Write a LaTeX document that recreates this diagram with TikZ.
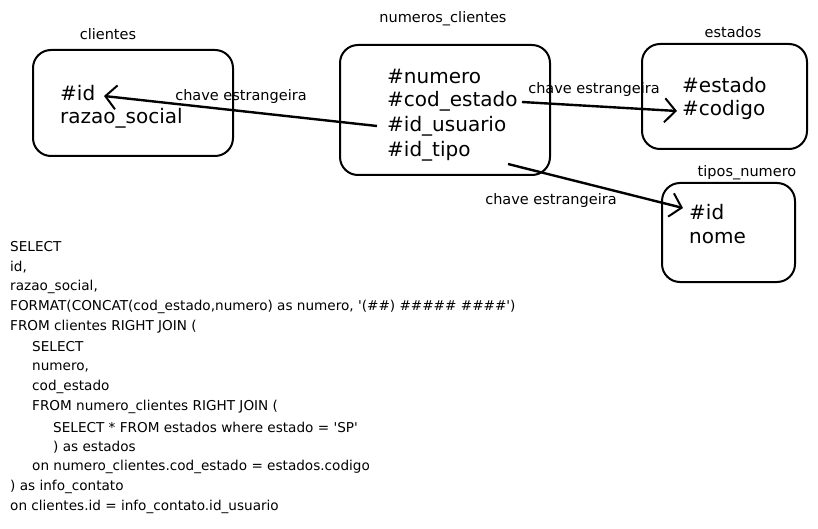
\documentclass[tikz,border=0pt]{standalone}
\usepackage{fontspec}
\setmainfont{DejaVu Sans}
\usetikzlibrary{arrows.meta}
\tikzset{
  tbl/.style={draw, line width=2pt, rounded corners=18pt},
  ttl/.style={font=\fontsize{14.5}{16}\selectfont, inner sep=0pt},
  fld/.style={font=\fontsize{20}{24}\selectfont, anchor=west, inner sep=0pt},
  lbl/.style={font=\fontsize{14.5}{16}\selectfont, inner sep=0pt},
  sql/.style={font=\fontsize{13.6}{20}\selectfont, anchor=west, inner sep=0pt},
  fk/.style={line width=2.4pt, -{Straight Barb[length=11pt,width=24pt,line width=2pt]}},
}
\newcommand{\sq}{\textquotesingle}
\begin{document}
\begin{tikzpicture}[x=1pt,y=-1pt]
\useasboundingbox (0,0) rectangle (818,529);
\fill[white] (0,0) rectangle (818,529);
% boxes
\draw[tbl] (33,50) rectangle (233,156);
\draw[tbl] (340,45) rectangle (550,175);
\draw[tbl] (642,44) rectangle (807,149);
\draw[tbl] (662,183) rectangle (795,282);
% titles
\node[ttl] (tcli) at (108,34) {clientes};
\node[ttl] (tnum) at (443,19) {numeros\_clientes};
\node[ttl] (test) at (733,32) {estados};
\node[ttl] (ttip) at (747,173) {tipos\_numero};
% fields
\node[fld] (cid) at (60,93) {\#id};
\node[fld] (crs) at (60,118) {razao\_social};
\node[fld] (nnum) at (387,76) {\#numero};
\node[fld] (ncod) at (387,101) {\#cod\_estado};
\node[fld] (nuser) at (387,126) {\#id\_usuario};
\node[fld] (ntipo) at (387,151) {\#id\_tipo};
\node[fld] (eest) at (682,85) {\#estado};
\node[fld] (ecod) at (682,110) {\#codigo};
\node[fld] (tid) at (689,212) {\#id};
\node[fld] (tnome) at (689,238) {nome};
% connectors
\coordinate (a1s) at (377,126);
\coordinate (a1e) at (104,96);
\coordinate (a2s) at (522,102);
\coordinate (a2e) at (677,111);
\coordinate (a3s) at (508,164);
\coordinate (a3e) at (683,208);
\draw[fk] (a1s) -- (a1e);
\draw[fk] (a2s) -- (a2e);
\draw[fk] (a3s) -- (a3e);
\node[lbl] (l1) at (241,97) {chave estrangeira};
\node[lbl] (l2) at (594,90) {chave estrangeira};
\node[lbl] (l3) at (551,200) {chave estrangeira};
% SQL
\node[sql] (q1) at (10,247) {SELECT};
\node[sql] (q2) at (10,267) {id,};
\node[sql] (q3) at (10,287) {razao\_social,};
\node[sql] (q4) at (10,307) {FORMAT(CONCAT(cod\_estado,numero) as numero, \sq(\#\#) \#\#\#\#\# \#\#\#\#\sq)};
\node[sql] (q5) at (10,327) {FROM clientes RIGHT JOIN (};
\node[sql] (q6) at (32,347) {SELECT};
\node[sql] (q7) at (32,367) {numero,};
\node[sql] (q8) at (32,387) {cod\_estado};
\node[sql] (q9) at (32,407) {FROM numero\_clientes RIGHT JOIN (};
\node[sql] (q10) at (53,427) {SELECT * FROM estados where estado = \sq SP\sq};
\node[sql] (q11) at (53,447) {) as estados};
\node[sql] (q12) at (32,467) {on numero\_clientes.cod\_estado = estados.codigo};
\node[sql] (q13) at (10,487) {) as info\_contato};
\node[sql] (q14) at (10,507) {on clientes.id = info\_contato.id\_usuario};
\end{tikzpicture}
\end{document}
